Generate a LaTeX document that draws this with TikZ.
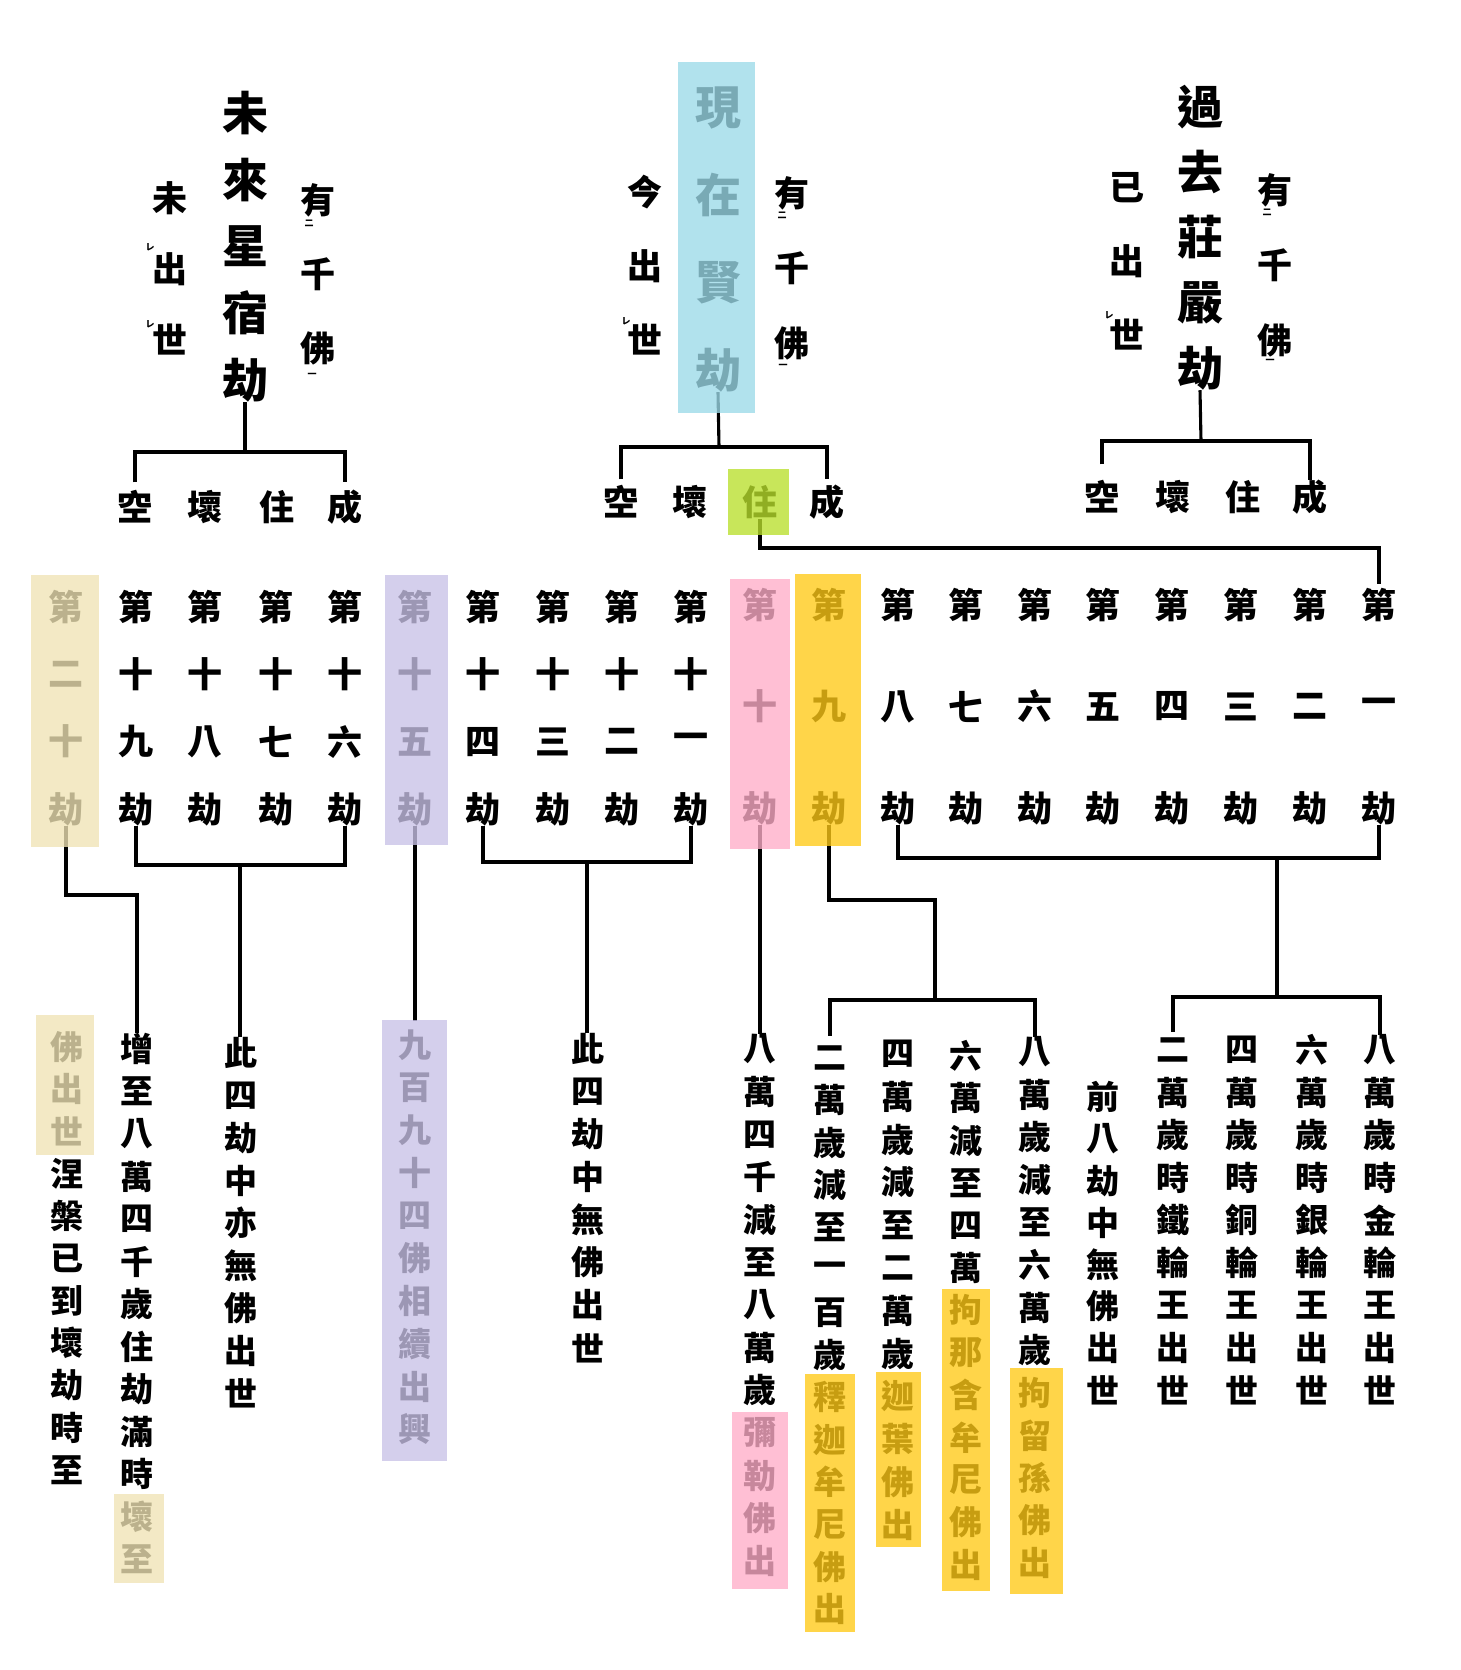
\documentclass[tikz,border=0pt]{standalone}
\usepackage{fontspec}
\newfontfamily\cjk{Noto Sans CJK TC}
\definecolor{blueC}{RGB}{156,218,233}
\definecolor{greenC}{RGB}{185,223,44}
\definecolor{beigeC}{RGB}{240,228,181}
\definecolor{purpleC}{RGB}{201,194,231}
\definecolor{pinkC}{RGB}{255,174,201}
\definecolor{yellowC}{RGB}{255,202,23}
\newcommand\vcol[6][]{%
  \foreach \ch [count=\k] in {#6}{%
    \node[ch,#1] (#2-\k) at (#3,{#4+(\k-1)*#5}) {\ch};}}
\tikzset{
  ch/.style={inner sep=0pt,font=\cjk\bfseries\fontsize{33}{33}\selectfont},
  big/.style={font=\cjk\bfseries\fontsize{46}{46}\selectfont},
  mid/.style={font=\cjk\bfseries\fontsize{35}{35}\selectfont},
  rowc/.style={font=\cjk\bfseries\fontsize{35}{35}\selectfont},
  low/.style={font=\cjk\bfseries\fontsize{33}{33}\selectfont},
  kmark/.style={inner sep=0pt,font=\cjk\bfseries\fontsize{9}{9}\selectfont},
  conn/.style={line width=3.1pt,black},
  hl/.style={fill=#1,fill opacity=0.78}
}
\begin{document}
\begin{tikzpicture}[x=1pt,y=-1pt]
\useasboundingbox[fill=white] (0,0) rectangle (1460,1670);

% ---------- top: three kalpas ----------
\vcol[big]{wl}{245}{113}{66.75}{未,來,星,宿,劫}
\vcol[mid]{wla}{170}{198}{71}{未,出,世}
\vcol[mid]{wlb}{318}{200}{74}{有,千,佛}
\foreach \ch/\xx [count=\k] in {空/135,壞/205,住/277,成/345}
  \node[ch,mid] (kl-\k) at (\xx,507) {\ch};

\vcol[big]{wm}{718}{108}{87.3}{現,在,賢,劫}
\vcol[mid]{wma}{645}{192}{74}{今,出,世}
\vcol[mid]{wmb}{792}{193}{75}{有,千,佛}
\foreach \ch/\xx [count=\k] in {空/621,壞/690,住/760,成/827}
  \node[ch,mid] (km-\k) at (\xx,502) {\ch};

\vcol[big]{wr}{1200}{107}{65.25}{過,去,莊,嚴,劫}
\vcol[mid]{wra}{1127}{188}{73.5}{已,出,世}
\vcol[mid]{wrb}{1275}{190}{75}{有,千,佛}
\foreach \ch/\xx [count=\k] in {空/1102,壞/1173,住/1243,成/1310}
  \node[ch,mid] (kr-\k) at (\xx,497) {\ch};

% reading marks
\node[kmark] (m1) at (309,223) {二};
\node[kmark] (m2) at (312,375) {一};
\node[kmark] (m3) at (782,215) {二};
\node[kmark] (m4) at (783,366) {一};
\node[kmark] (m5) at (1267,212) {二};
\node[kmark] (m6) at (1270,361) {一};
\node[kmark] (m7) at (150,247) {レ};
\node[kmark] (m8) at (150,324) {レ};
\node[kmark] (m9) at (626,321) {レ};
\node[kmark] (m10) at (1109,315) {レ};

% top connectors
\coordinate (bl1) at (245,452);
\draw[conn] (wl-5.south) -- (bl1);
\draw[conn] ([yshift=8pt]kl-1.north) |- (bl1) -| ([yshift=8pt]kl-4.north);
\coordinate (bm1) at (719,447);
\draw[conn] (wm-4.south) -- (bm1);
\draw[conn] ([yshift=6pt]km-1.north) |- (bm1) -| ([yshift=6pt]km-4.north);
\coordinate (br1) at (1201,441);
\draw[conn] (wr-5.south) -- (br1);
\draw[conn] ([yshift=16pt]kr-1.north) |- (br1) -| ([yshift=0pt]kr-4.north);

% ---------- row of twenty kalpas ----------
\vcol[rowc]{r20}{66}{607}{67.3}{第,二,十,劫}
\vcol[rowc]{r19}{136}{607}{67.3}{第,十,九,劫}
\vcol[rowc]{r18}{205}{607}{67.3}{第,十,八,劫}
\vcol[rowc]{r17}{276}{607}{67.3}{第,十,七,劫}
\vcol[rowc]{r16}{345}{607}{67.3}{第,十,六,劫}
\vcol[rowc]{r15}{415}{607}{67.3}{第,十,五,劫}
\vcol[rowc]{r14}{483}{607}{67.3}{第,十,四,劫}
\vcol[rowc]{r13}{553}{607}{67.3}{第,十,三,劫}
\vcol[rowc]{r12}{622}{607}{67.3}{第,十,二,劫}
\vcol[rowc]{r11}{691}{607}{67.3}{第,十,一,劫}
\vcol[rowc]{r10}{760}{605}{101.5}{第,十,劫}
\vcol[rowc]{r9}{829}{605}{101.5}{第,九,劫}
\vcol[rowc]{r8}{898}{605}{101.5}{第,八,劫}
\vcol[rowc]{r7}{966}{605}{101.5}{第,七,劫}
\vcol[rowc]{r6}{1035}{605}{101.5}{第,六,劫}
\vcol[rowc]{r5}{1103}{605}{101.5}{第,五,劫}
\vcol[rowc]{r4}{1172}{605}{101.5}{第,四,劫}
\vcol[rowc]{r3}{1241}{605}{101.5}{第,三,劫}
\vcol[rowc]{r2}{1310}{605}{101.5}{第,二,劫}
\vcol[rowc]{r1}{1379}{605}{101.5}{第,一,劫}

% line from 住 to the first kalpa
\coordinate (zhu) at (1000,548);
\draw[conn] (km-3.south) |- (zhu) -| ([yshift=4pt]r1-1.north);

% ---------- bottom columns ----------
\vcol[low]{fo}{67}{1047}{42.3}{佛,出,世,涅,槃,已,到,壞,劫,時,至}
\vcol[low]{zeng}{137}{1049}{42.5}{增,至,八,萬,四,千,歲,住,劫,滿,時,壞,至}
\vcol[low]{ya}{241}{1053}{42.5}{此,四,劫,中,亦,無,佛,出,世}
\vcol[low]{jiu}{415}{1045}{42.7}{九,百,九,十,四,佛,相,續,出,興}
\vcol[low]{wu}{588}{1049}{42.7}{此,四,劫,中,無,佛,出,世}
\vcol[low]{ba}{760}{1049}{42.67}{八,萬,四,千,減,至,八,萬,歲,彌,勒,佛,出}
\vcol[low]{er}{830}{1058}{42.4}{二,萬,歲,減,至,一,百,歲,釋,迦,牟,尼,佛,出}
\vcol[low]{si}{898}{1054}{42.8}{四,萬,歲,減,至,二,萬,歲,迦,葉,佛,出}
\vcol[low]{liu}{966}{1056}{42.4}{六,萬,減,至,四,萬,拘,那,含,牟,尼,佛,出}
\vcol[low]{liu8}{1035}{1052}{42.6}{八,萬,歲,減,至,六,萬,歲,拘,留,孫,佛,出}
\vcol[low]{qian}{1103}{1097}{41.9}{前,八,劫,中,無,佛,出,世}
\vcol[low]{lun2}{1173}{1050}{42.5}{二,萬,歲,時,鐵,輪,王,出,世}
\vcol[low]{lun4}{1242}{1050}{42.5}{四,萬,歲,時,銅,輪,王,出,世}
\vcol[low]{lun6}{1312}{1050}{42.5}{六,萬,歲,時,銀,輪,王,出,世}
\vcol[low]{lun8}{1380}{1050}{42.5}{八,萬,歲,時,金,輪,王,出,世}

% ---------- lower connectors ----------
\coordinate (k20) at (137,895);
\draw[conn] (r20-4.south) |- (k20) -- (k20 |- zeng-1.north);
\coordinate (j19) at (240,865);
\draw[conn] (r19-4.south) |- (j19) -| (r16-4.south);
\draw[conn] (j19) -- (j19 |- ya-1.north);
\draw[conn] (r15-4.south) -- ([yshift=8pt]jiu-1.north);
\coordinate (j14) at (587,862);
\draw[conn] (r14-4.south) |- (j14) -| (r11-4.south);
\draw[conn] (j14) -- (j14 |- wu-1.north);
\draw[conn] (r10-3.south) -- (ba-1.north);
\coordinate (k9) at (935,900);
\coordinate (k9b) at (935,1000);
\draw[conn] (r9-3.south) |- (k9) -- (k9b);
\draw[conn] ([yshift=10pt]er-1.north) |- (k9b) -| (liu8-1.north);
\coordinate (j8) at (1277,858);
\coordinate (j8b) at (1277,997);
\draw[conn] (r8-3.south) |- (j8) -| (r1-3.south);
\draw[conn] (j8) -- (j8b);
\draw[conn] ([yshift=6pt]lun2-1.north) |- (j8b) -| (lun8-1.north);

% ---------- highlight overlays ----------
\path[hl=blueC] (678,62) rectangle (755,413);
\path[hl=greenC] (728,469) rectangle (789,535);
\path[hl=beigeC] (31,575) rectangle (99,847);
\path[hl=purpleC] (385,575) rectangle (448,845);
\path[hl=pinkC] (730,579) rectangle (790,849);
\path[hl=yellowC] (795,574) rectangle (861,846);
\path[hl=beigeC] (36,1015) rectangle (94,1155);
\path[hl=beigeC] (114,1494) rectangle (164,1583);
\path[hl=purpleC] (382,1020) rectangle (447,1461);
\path[hl=pinkC] (732,1412) rectangle (788,1589);
\path[hl=yellowC] (805,1374) rectangle (855,1632);
\path[hl=yellowC] (876,1372) rectangle (921,1547);
\path[hl=yellowC] (942,1289) rectangle (990,1591);
\path[hl=yellowC] (1010,1368) rectangle (1063,1594);
\end{tikzpicture}
\end{document}
